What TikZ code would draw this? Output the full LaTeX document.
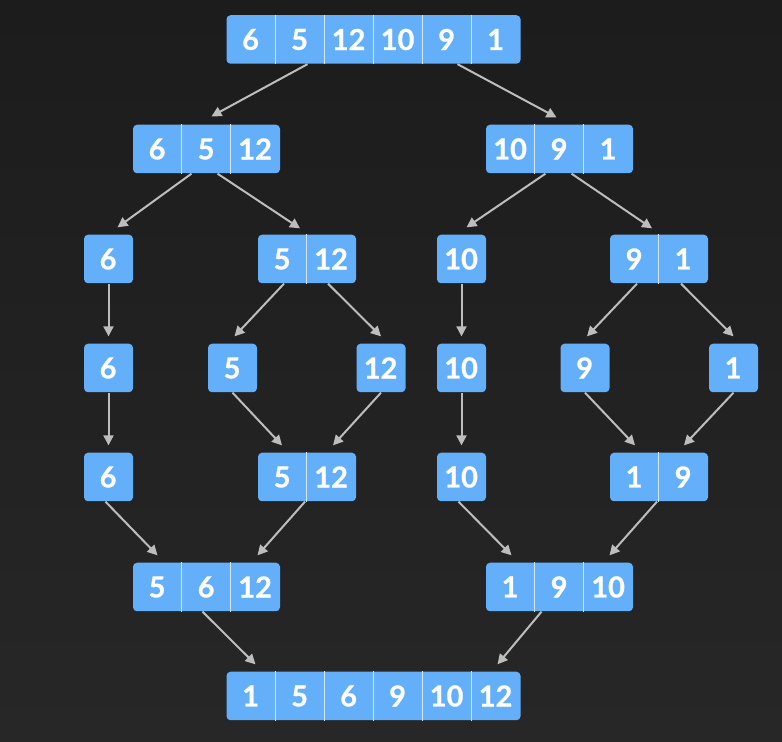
\documentclass[tikz,border=0pt]{standalone}
\usepackage{fontspec}
\setmainfont{Lato}
\newfontfamily\cellfont[BoldFeatures={FakeBold=0.7}]{Lato}
\usepackage{tikz}
\usepackage{xcolor}
\usetikzlibrary{arrows.meta,positioning,calc}
\definecolor{bgtop}    {HTML}{1C1C1C}
\definecolor{bgbot}    {HTML}{272727}
\definecolor{cellblue} {HTML}{64AFFA}
\definecolor{cellline} {HTML}{D2E7FC}
\definecolor{arrowgrey}{HTML}{BDBDBD}

\tikzset{
  rowbox/.style={fill=cellblue,rounded corners=2pt,minimum height=24.25pt,inner sep=0pt},
  celltext/.style={text=white,font=\cellfont\fontsize{14.5pt}{16pt}\selectfont\bfseries,inner sep=0pt},
  divider/.style={draw=cellline,line width=0.5pt},
  arr/.style={draw=arrowgrey,line width=1pt,-{Triangle[length=5pt,width=5pt]}}
}

% one array: name, number of cells, centre, values
\newcommand{\cellrow}[4]{%
  \node[rowbox,minimum width={#2*24.5pt}] (#1) at #3 {};
  \foreach \v [count=\i] in {#4} {
    \node[celltext] at ($(#1.west)+(\i*49-24.5,0)$) {\v};
    \ifnum\i>1
      \draw[divider] ($(#1.north west)+(\i*49-49,0)$) -- ($(#1.south west)+(\i*49-49,0)$);
    \fi
  }%
}

\begin{document}
\begin{tikzpicture}[x=0.5pt,y=-0.5pt]
  \shade[top color=bgtop,bottom color=bgbot] (0,0) rectangle (782,742);
  \useasboundingbox (0,0) rectangle (782,742);

  % splitting
  \cellrow{s0}{6}{(373.5,39.5)}{6,5,12,10,9,1}
  \cellrow{s1l}{3}{(206.5,149)}{6,5,12}
  \cellrow{s1r}{3}{(559.5,149)}{10,9,1}
  \cellrow{s2a}{1}{(108.5,259)}{6}
  \cellrow{s2b}{2}{(307,259)}{5,12}
  \cellrow{s2c}{1}{(461.5,259)}{10}
  \cellrow{s2d}{2}{(659,259)}{9,1}
  \cellrow{s3a}{1}{(108.5,368)}{6}
  \cellrow{s3b}{1}{(232.5,368)}{5}
  \cellrow{s3c}{1}{(381,368)}{12}
  \cellrow{s3d}{1}{(461.5,368)}{10}
  \cellrow{s3e}{1}{(585,368)}{9}
  \cellrow{s3f}{1}{(733.5,368)}{1}

  % merging
  \cellrow{m1a}{1}{(108.5,477)}{6}
  \cellrow{m1b}{2}{(307,477)}{5,12}
  \cellrow{m1c}{1}{(461.5,477)}{10}
  \cellrow{m1d}{2}{(659,477)}{1,9}
  \cellrow{m2l}{3}{(206.5,587)}{5,6,12}
  \cellrow{m2r}{3}{(559.5,587)}{1,9,10}
  \cellrow{m3}{6}{(373.5,696)}{1,5,6,9,10,12}

  % connectors
  \draw[arr] ($(s0.south)+(-66,0)$) -- ($(s1l.north)+(5,-8)$);
  \draw[arr] ($(s0.south)+(84,0)$) -- ($(s1r.north)+(-3,-7)$);
  \draw[arr] ($(s1l.south)+(-15,0)$) -- ($(s2a.north)+(9,-7)$);
  \draw[arr] ($(s1l.south)+(11,0)$) -- ($(s2b.north)+(-7,-6)$);
  \draw[arr] ($(s1r.south)+(-14,0)$) -- ($(s2c.north)+(5,-7)$);
  \draw[arr] ($(s1r.south)+(12,0)$) -- ($(s2d.north)+(-7,-6)$);
  \draw[arr] (s2a.south) -- ($(s3a.north)+(0,-7)$);
  \draw[arr] ($(s2b.south)+(-23,0)$) -- ($(s3b.north)+(2,-7)$);
  \draw[arr] ($(s2b.south)+(21,0)$) -- ($(s3c.north)+(0,-7)$);
  \draw[arr] (s2c.south) -- ($(s3d.north)+(0,-7)$);
  \draw[arr] ($(s2d.south)+(-22,0)$) -- ($(s3e.north)+(2,-7)$);
  \draw[arr] ($(s2d.south)+(22,0)$) -- ($(s3f.north)+(0,-7)$);
  \draw[arr] (s3a.south) -- ($(m1a.north)+(0,-7)$);
  \draw[arr] (s3b.south) -- ($(m1b.north)+(-25,-7)$);
  \draw[arr] (s3c.south) -- ($(m1b.north)+(26,-7)$);
  \draw[arr] (s3d.south) -- ($(m1c.north)+(0,-7)$);
  \draw[arr] (s3e.south) -- ($(m1d.north)+(-24,-7)$);
  \draw[arr] (s3f.south) -- ($(m1d.north)+(25,-7)$);
  \draw[arr] ($(m1a.south)+(-3,0)$) -- ($(m2l.north)+(-49,-7)$);
  \draw[arr] ($(m1b.south)+(-2,0)$) -- ($(m2l.north)+(51,-7)$);
  \draw[arr] ($(m1c.south)+(-3,0)$) -- ($(m2r.north)+(-48,-7)$);
  \draw[arr] ($(m1d.south)+(-2,0)$) -- ($(m2r.north)+(50,-7)$);
  \draw[arr] ($(m2l.south)+(-4,0)$) -- ($(m3.north)+(-118,-7)$);
  \draw[arr] ($(m2r.south)+(-18,0)$) -- ($(m3.north)+(124,-7)$);
\end{tikzpicture}
\end{document}
